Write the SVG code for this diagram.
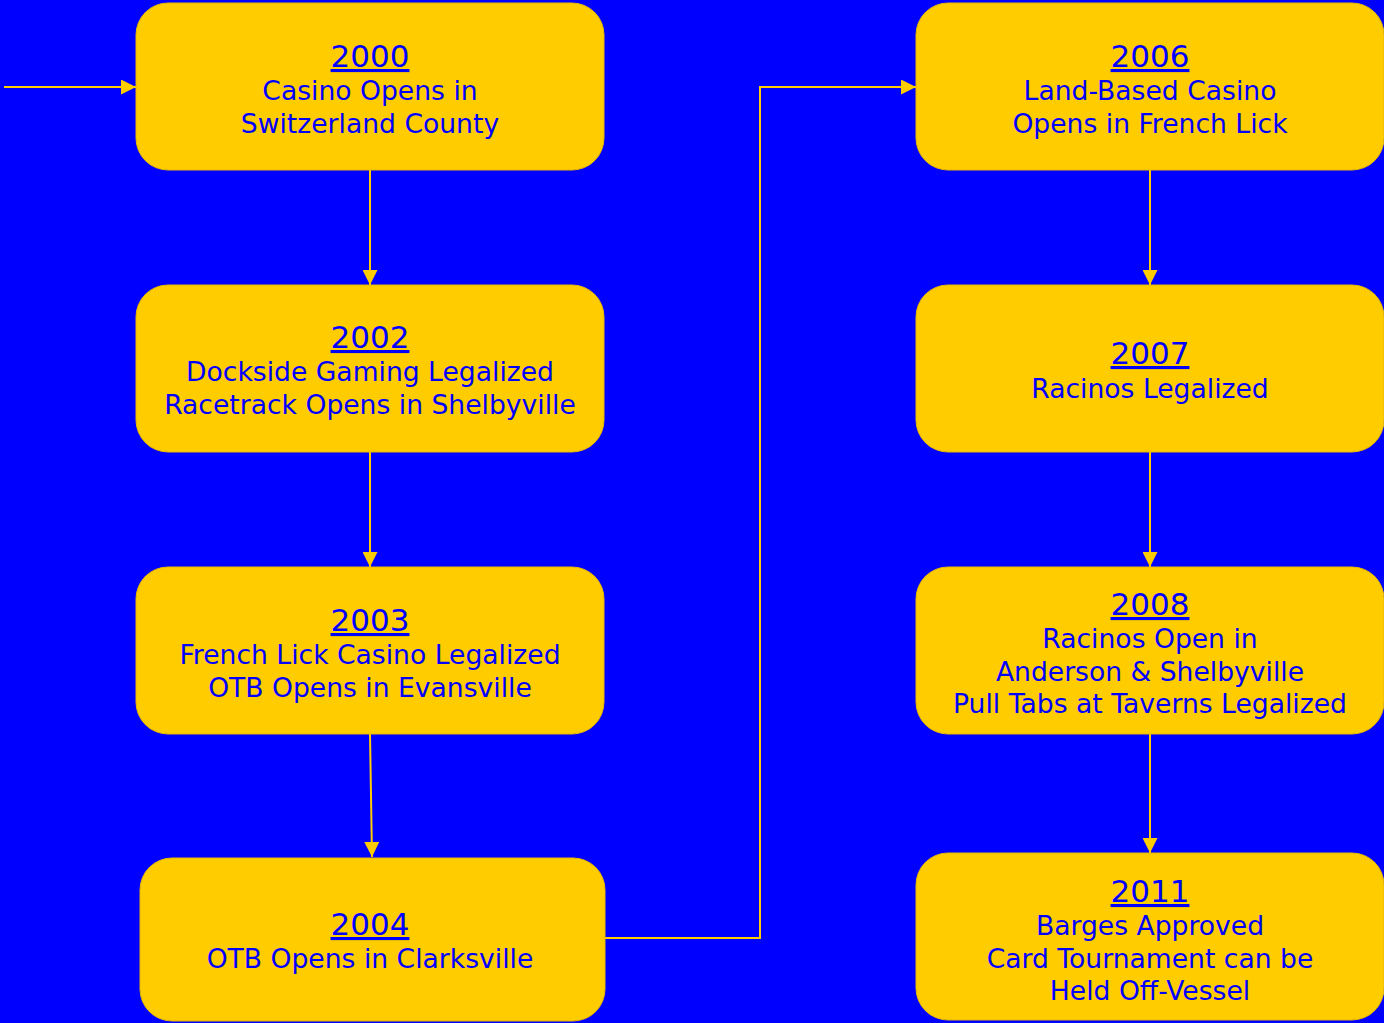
<svg xmlns="http://www.w3.org/2000/svg" width="1384" height="1023" viewBox="0 0 1384 1023">
<style>
.box{fill:#FFCC00;stroke:#E6B800;stroke-width:1}
.t{font-family:"DejaVu Sans",Verdana,sans-serif;fill:#0000FF;text-anchor:middle}
.yr{font-size:31px;text-decoration:underline}
.ln{font-size:26.6px}
.c{fill:none;stroke:#FFCC00;stroke-width:2}
</style>
<defs>
<marker id="ah" viewBox="0 0 15 15" refX="15" refY="7.5" markerWidth="15" markerHeight="15" markerUnits="userSpaceOnUse" orient="auto">
<path d="M0,0 L15,7.5 L0,15 Z" fill="#FFCC00"/>
</marker>
</defs>
<rect width="1384" height="1023" fill="#0000FF"/>
<g id="connectors">
<path class="c" d="M4,87 L136,87" marker-end="url(#ah)"/>
<path class="c" d="M370,170 L370,285" marker-end="url(#ah)"/>
<path class="c" d="M370,452 L370,567" marker-end="url(#ah)"/>
<path class="c" d="M370,734 L372,857" marker-end="url(#ah)"/>
<path class="c" d="M605,938 L760,938 L760,87 L916,87" marker-end="url(#ah)"/>
<path class="c" d="M1150,170 L1150,285" marker-end="url(#ah)"/>
<path class="c" d="M1150,452 L1150,567" marker-end="url(#ah)"/>
<path class="c" d="M1150,734 L1150,853" marker-end="url(#ah)"/>
</g>
<g id="n2000">
<rect class="box" x="136" y="3" width="468" height="167" rx="32"/>
<text class="t yr" x="370" y="67">2000</text>
<text class="t ln" x="370" y="100">Casino Opens in</text>
<text class="t ln" x="370" y="133">Switzerland County</text>
</g>
<g id="n2002">
<rect class="box" x="136" y="285" width="468" height="167" rx="32"/>
<text class="t yr" x="370" y="348">2002</text>
<text class="t ln" x="370" y="381">Dockside Gaming Legalized</text>
<text class="t ln" x="370" y="414">Racetrack Opens in Shelbyville</text>
</g>
<g id="n2003">
<rect class="box" x="136" y="567" width="468" height="167" rx="32"/>
<text class="t yr" x="370" y="631">2003</text>
<text class="t ln" x="370" y="664">French Lick Casino Legalized</text>
<text class="t ln" x="370" y="697">OTB Opens in Evansville</text>
</g>
<g id="n2004">
<rect class="box" x="140" y="858" width="465" height="163" rx="32" stroke="#3344cc"/>
<text class="t yr" x="370" y="935">2004</text>
<text class="t ln" x="370" y="968">OTB Opens in Clarksville</text>
</g>
<g id="n2006">
<rect class="box" x="916" y="3" width="468" height="167" rx="32"/>
<text class="t yr" x="1150" y="67">2006</text>
<text class="t ln" x="1150" y="100">Land-Based Casino</text>
<text class="t ln" x="1150" y="133">Opens in French Lick</text>
</g>
<g id="n2007">
<rect class="box" x="916" y="285" width="468" height="167" rx="32"/>
<text class="t yr" x="1150" y="364">2007</text>
<text class="t ln" x="1150" y="398">Racinos Legalized</text>
</g>
<g id="n2008">
<rect class="box" x="916" y="567" width="468" height="167" rx="32"/>
<text class="t yr" x="1150" y="615">2008</text>
<text class="t ln" x="1150" y="648">Racinos Open in</text>
<text class="t ln" x="1150" y="681">Anderson &amp; Shelbyville</text>
<text class="t ln" x="1150" y="713">Pull Tabs at Taverns Legalized</text>
</g>
<g id="n2011">
<rect class="box" x="916" y="853" width="468" height="167" rx="32"/>
<text class="t yr" x="1150" y="902">2011</text>
<text class="t ln" x="1150" y="935">Barges Approved</text>
<text class="t ln" x="1150" y="968">Card Tournament can be</text>
<text class="t ln" x="1150" y="1000">Held Off-Vessel</text>
</g>
</svg>
